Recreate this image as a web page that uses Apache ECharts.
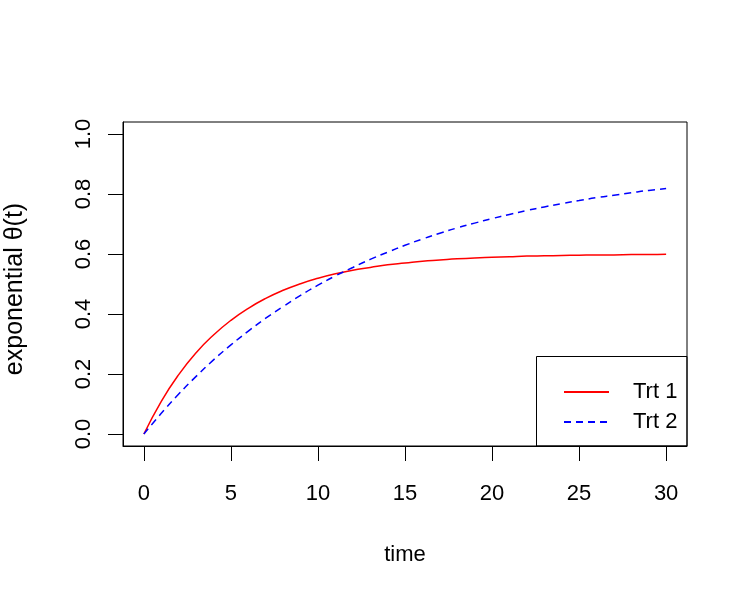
<!DOCTYPE html>
<html>
<head>
<meta charset="utf-8">
<script src="https://cdn.jsdelivr.net/npm/echarts@6/dist/echarts.min.js"></script>
<style>
  html, body { margin: 0; padding: 0; background: #fff; }
  #chart { width: 750px; height: 600px; }
</style>
</head>
<body>
<div id="chart"></div>
<script>
// values
var time = [0, 1, 2, 3, 4, 5, 6, 7, 8, 9, 10, 11, 12, 13, 14, 15,
            16, 17, 18, 19, 20, 21, 22, 23, 24, 25, 26, 27, 28, 29, 30];
var trt1 = [0, 0.109, 0.198, 0.271, 0.330, 0.379, 0.419, 0.452, 0.479, 0.501, 0.519,
            0.534, 0.546, 0.555, 0.564, 0.570, 0.576, 0.580, 0.584, 0.587, 0.589,
            0.591, 0.593, 0.594, 0.595, 0.596, 0.597, 0.597, 0.598, 0.598, 0.599];
var trt2 = [0, 0.069, 0.133, 0.192, 0.247, 0.297, 0.343, 0.386, 0.425, 0.462, 0.496,
            0.527, 0.555, 0.582, 0.606, 0.629, 0.650, 0.669, 0.687, 0.703, 0.718,
            0.732, 0.745, 0.757, 0.768, 0.778, 0.788, 0.796, 0.804, 0.812, 0.818];
var xTicks = [0, 5, 10, 15, 20, 25, 30];
var yTicks = [0, 0.2, 0.4, 0.6, 0.8, 1.0];
var seriesNames = ['Trt 1', 'Trt 2'];

function pairs(ys) {
  var out = [];
  for (var i = 0; i < time.length; i++) out.push([time[i], ys[i]]);
  return out;
}

var font = 'Liberation Sans, Arial, Helvetica, sans-serif';
var chart = echarts.init(document.getElementById('chart'));

var option = {
  backgroundColor: '#fff',
  animation: false,
  grid: {
    left: 123, right: 63, top: 122, bottom: 154,
    outerBoundsMode: 'none', containLabel: false,
    show: true, borderColor: '#000', borderWidth: 1, backgroundColor: 'transparent'
  },
  xAxis: {
    type: 'value', min: -1.2, max: 31.2,
    name: 'time', nameLocation: 'middle', nameGap: 98,
    nameTextStyle: { fontFamily: font, fontSize: 22, color: '#000' },
    axisLine: { show: true, onZero: false, lineStyle: { color: '#000', width: 1 } },
    splitLine: { show: false },
    axisTick: { show: true, inside: false, length: 15, customValues: xTicks, lineStyle: { color: '#000', width: 1 } },
    axisLabel: {
      customValues: xTicks, margin: 37,
      fontFamily: font, fontSize: 22, color: '#000',
      formatter: function (v) { return String(v); }
    }
  },
  yAxis: {
    type: 'value', min: -0.04, max: 1.04,
    name: 'exponential \u03b8(t)', nameLocation: 'middle', nameGap: 95,
    nameTextStyle: { fontFamily: font, fontSize: 25, color: '#000', padding: [0, 10, 0, 0] },
    axisLine: { show: true, onZero: false, lineStyle: { color: '#000', width: 1 } },
    splitLine: { show: false },
    axisTick: { show: true, inside: false, length: 15, customValues: yTicks, lineStyle: { color: '#000', width: 1 } },
    axisLabel: {
      customValues: yTicks, margin: 28, rotate: 90,
      fontFamily: font, fontSize: 22, color: '#000',
      formatter: function (v) { return v.toFixed(1); }
    }
  },
  legend: {
    orient: 'vertical', left: 558, top: 376,
    itemWidth: 45, itemHeight: 14, itemGap: 8,
    itemStyle: { opacity: 0 },
    textStyle: { fontFamily: font, fontSize: 22, color: '#000', lineHeight: 22, padding: [0, 0, 0, 19] },
    data: seriesNames
  },
  graphic: [{
    type: 'rect', z: 100, silent: true,
    shape: { x: 536.5, y: 356.5, width: 150.5, height: 89.5 },
    style: { fill: null, stroke: '#000', lineWidth: 1 }
  }],
  series: [
    {
      name: seriesNames[0], type: 'line', data: pairs(trt1),
      smooth: true, symbol: 'none',
      lineStyle: { color: '#ff0000', width: 1.5 }, itemStyle: { color: '#ff0000' }
    },
    {
      name: seriesNames[1], type: 'line', data: pairs(trt2),
      smooth: true, symbol: 'none',
      lineStyle: { color: '#0000ff', width: 1.5, type: [7, 5] }, itemStyle: { color: '#0000ff' }
    }
  ]
};
chart.setOption(option);
</script>
</body>
</html>
